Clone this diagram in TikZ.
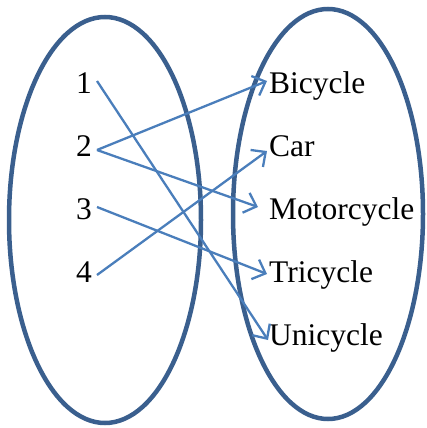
\documentclass[tikz,border=0pt]{standalone}
\usepackage{fontspec}
\setmainfont{Liberation Serif}
\usetikzlibrary{arrows.meta}
\definecolor{setblue}{HTML}{3A5F8E}
\definecolor{arrblue}{HTML}{4A7EBB}
\tikzset{
  setoval/.style={draw=setblue, line width=4.5pt},
  lbl/.style={anchor=base west, inner sep=0pt, font=\fontsize{31.5}{36}\selectfont},
  maparrow/.style={draw=arrblue, line width=2.3pt, -{Straight Barb[length=11pt,width=21pt,line width=2.3pt]}}
}
\begin{document}
\begin{tikzpicture}[x=1pt,y=-1pt]
\useasboundingbox (0,0) rectangle (427,428);
\draw[setoval] (105,220) ellipse [x radius=96, y radius=203];
\draw[setoval] (328,214) ellipse [x radius=95, y radius=205];
% domain labels
\node[lbl] (n1) at (76,93) {1};
\node[lbl] (n2) at (76,156) {2};
\node[lbl] (n3) at (76,219) {3};
\node[lbl] (n4) at (76,282) {4};
% codomain labels
\node[lbl] (bi) at (269,93) {Bicycle};
\node[lbl] (ca) at (269,156) {Car};
\node[lbl] (mo) at (269,219) {Motorcycle};
\node[lbl] (tr) at (269,282) {Tricycle};
\node[lbl] (un) at (269,345) {Unicycle};
% arrow end points
\coordinate (s1) at (97,81);
\coordinate (s2) at (97,150);
\coordinate (s3) at (97,207);
\coordinate (s4) at (97,275);
\coordinate (eb) at (267,81);
\coordinate (ec) at (267,151);
\coordinate (em) at (258,207);
\coordinate (et) at (267,274);
\coordinate (eu) at (268,340);
\draw[maparrow] (s1) -- (eu);
\draw[maparrow] (s2) -- (eb);
\draw[maparrow] (s2) -- (em);
\draw[maparrow] (s3) -- (et);
\draw[maparrow] (s4) -- (ec);
\end{tikzpicture}
\end{document}
